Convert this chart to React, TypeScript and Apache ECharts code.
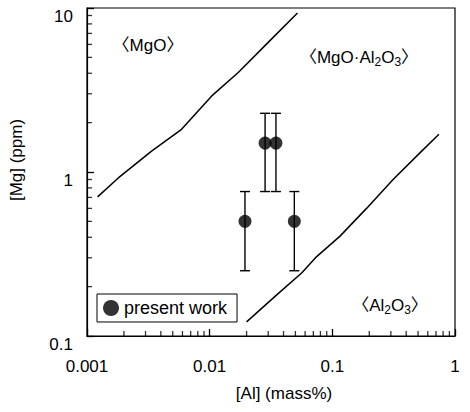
import React, { useEffect, useRef } from "react";
import * as echarts from "echarts";

// MgO / MgO·Al2O3 boundary
const upperX = [0.00122, 0.0018, 0.00336, 0.0059, 0.0104, 0.0171, 0.03, 0.052];
const upperY = [0.705, 0.92, 1.34, 1.82, 2.91, 4.04, 6.17, 9.32];
// MgO·Al2O3 / Al2O3 boundary
const lowerX = [0.02, 0.0352, 0.0562, 0.0745, 0.115, 0.19, 0.313, 0.535, 0.74];
const lowerY = [0.122, 0.178, 0.242, 0.305, 0.405, 0.6, 0.9, 1.34, 1.7];
// present work
const workX = [0.0194, 0.0283, 0.0347, 0.049];
const workY = [0.5, 1.5, 1.5, 0.5];
const errLow = [0.25, 0.76, 0.76, 0.25];
const errHigh = [0.76, 2.28, 2.28, 0.76];
// minor tick values
const minorX = [0.002, 0.003, 0.004, 0.005, 0.006, 0.007, 0.008, 0.009, 0.02, 0.03, 0.04, 0.05, 0.06, 0.07, 0.08, 0.09, 0.2, 0.3, 0.4, 0.5, 0.6, 0.7, 0.8, 0.9];
const minorY = [0.2, 0.3, 0.4, 0.5, 0.6, 0.7, 0.8, 0.9, 2, 3, 4, 5, 6, 7, 8, 9];

const FONT = "'Liberation Sans', Arial, 'Noto Sans CJK JP', sans-serif";

export default function App() {
  const ref = useRef<HTMLDivElement>(null);
  useEffect(() => {
    if (!ref.current) return;
    const chart = echarts.init(ref.current, null, { renderer: "svg" });
    const fmt = (v: number) => String(parseFloat(Number(v).toPrecision(3)));
    const rich = {
      n: { fontSize: 17, lineHeight: 22, fontFamily: FONT, color: "#000" },
      s: { fontSize: 12, lineHeight: 12, verticalAlign: "bottom", fontFamily: FONT, color: "#000" },
    };
    chart.setOption({
      animation: false,
      backgroundColor: "#fff",
      textStyle: { fontFamily: FONT },
      grid: { left: 87, right: 15, top: 8, bottom: 76, show: true, borderColor: "#000", borderWidth: 1.2, backgroundColor: "transparent" },
      legend: {
        left: 97,
        top: 294,
        padding: [5, 10, 5, 6],
        borderColor: "#000",
        borderWidth: 1,
        backgroundColor: "#fff",
        itemWidth: 16,
        itemHeight: 16,
        textStyle: { fontSize: 18, color: "#000", fontFamily: FONT },
        data: [{ name: "present work", icon: "circle", itemStyle: { color: "#000" } }],
      },
      xAxis: {
        type: "log",
        logBase: 10,
        min: 0.001,
        max: 1,
        splitLine: { show: false },
        axisLine: { show: true, lineStyle: { color: "#000", width: 1.2 } },
        axisTick: { show: true, inside: true, length: 7, lineStyle: { color: "#000", width: 1.3 } },
        axisLabel: { fontSize: 17, color: "#000", margin: 22, formatter: fmt, fontFamily: FONT },
      },
      yAxis: {
        type: "log",
        logBase: 10,
        min: 0.1,
        max: 10,
        splitLine: { show: false },
        axisLine: { show: true, lineStyle: { color: "#000", width: 1.2 } },
        axisTick: { show: true, inside: true, length: 7, lineStyle: { color: "#000", width: 1.3 } },
        axisLabel: { fontSize: 17, color: "#000", margin: 14, verticalAlign: "top", formatter: fmt, fontFamily: FONT },
      },
      series: [
        {
          type: "line",
          data: upperX.map((x, i) => [x, upperY[i]]),
          showSymbol: false,
          symbol: "none",
          lineStyle: { color: "#000", width: 1.5 },
          silent: true,
        },
        {
          type: "line",
          data: lowerX.map((x, i) => [x, lowerY[i]]),
          showSymbol: false,
          symbol: "none",
          lineStyle: { color: "#000", width: 1.5 },
          silent: true,
        },
        {
          type: "scatter",
          data: minorX.map((x) => [x, 0.1]),
          symbol: "rect",
          symbolSize: [1.3, 5],
          symbolOffset: [0, -2.5],
          itemStyle: { color: "#000" },
          silent: true,
          clip: false,
          z: 6,
        },
        {
          type: "scatter",
          data: minorY.map((y) => [0.001, y]),
          symbol: "rect",
          symbolSize: [5, 1.3],
          symbolOffset: [2.5, 0],
          itemStyle: { color: "#000" },
          silent: true,
          clip: false,
          z: 6,
        },
        {
          type: "custom",
          data: workX.map((x, i) => [x, errLow[i], errHigh[i]]),
          silent: true,
          z: 3,
          renderItem: (params: any, api: any) => {
            const lo = api.coord([api.value(0), api.value(1)]);
            const hi = api.coord([api.value(0), api.value(2)]);
            const c = 5;
            const st = { stroke: "#000", lineWidth: 1.4 };
            return {
              type: "group",
              children: [
                { type: "line", shape: { x1: lo[0], y1: lo[1], x2: hi[0], y2: hi[1] }, style: st },
                { type: "line", shape: { x1: lo[0] - c, y1: lo[1], x2: lo[0] + c, y2: lo[1] }, style: st },
                { type: "line", shape: { x1: hi[0] - c, y1: hi[1], x2: hi[0] + c, y2: hi[1] }, style: st },
              ],
            };
          },
        },
        {
          name: "present work",
          type: "scatter",
          z: 5,
          symbol: "circle",
          symbolSize: 13,
          itemStyle: { color: "#000" },
          data: workX.map((x, i) => [x, workY[i]]),
        },
      ],
      graphic: [
        {
          type: "text",
          x: 148,
          y: 45,
          style: { text: "〈MgO〉", font: `17px ${FONT}`, fill: "#000", align: "center", verticalAlign: "middle" },
        },
        {
          type: "text",
          x: 359,
          y: 57,
          style: {
            text: "{n|〈MgO·Al}{s|2}{n|O}{s|3}{n|〉}",
            rich,
            align: "center",
            verticalAlign: "middle",
          },
        },
        {
          type: "text",
          x: 390,
          y: 305,
          style: {
            text: "{n|〈Al}{s|2}{n|O}{s|3}{n|〉}",
            rich,
            align: "center",
            verticalAlign: "middle",
          },
        },
        {
          type: "text",
          x: 284,
          y: 393,
          style: { text: "[Al] (mass%)", font: `17px ${FONT}`, fill: "#000", align: "center", verticalAlign: "middle" },
        },
        {
          type: "text",
          x: 16,
          y: 160,
          rotation: Math.PI / 2,
          style: { text: "[Mg] (ppm)", font: `17px ${FONT}`, fill: "#000", align: "center", verticalAlign: "middle" },
        },
      ],
    });
    return () => chart.dispose();
  }, []);
  return <div ref={ref} style={{ width: 470, height: 412, position: "absolute", left: 0, top: 0 }} />;
}
